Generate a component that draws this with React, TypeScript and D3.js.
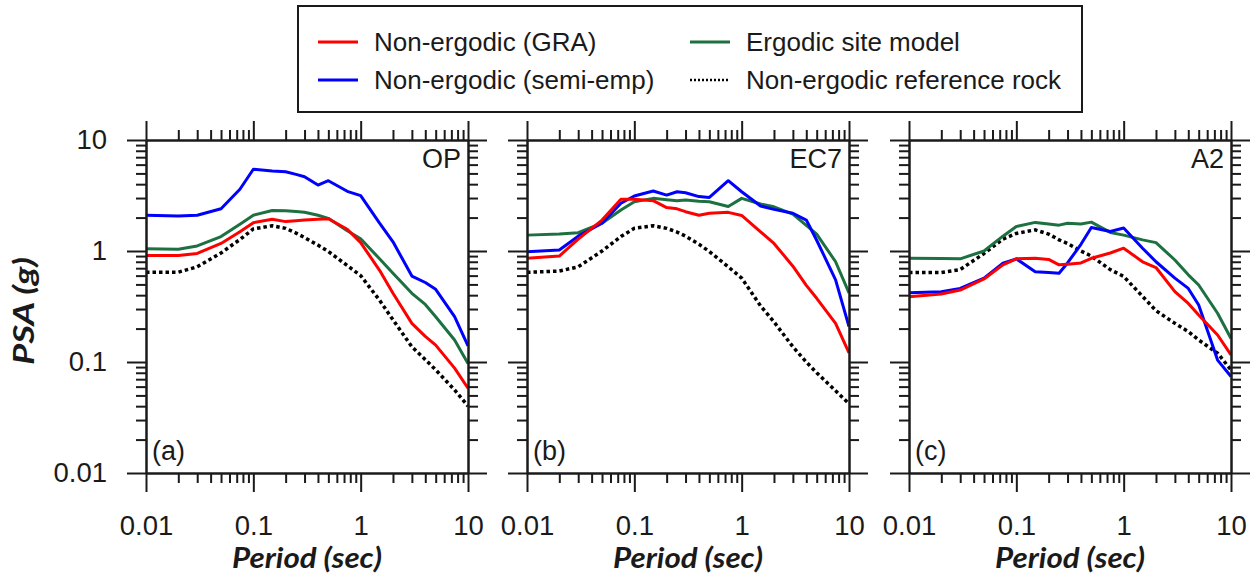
import React, { useEffect, useRef } from "react";
import * as d3 from "d3";

// periods (sec) shared by every curve
const periods = [0.01, 0.02, 0.03, 0.05, 0.075, 0.1, 0.15, 0.2, 0.25, 0.3, 0.4, 0.5, 0.75, 1, 1.5, 2, 3, 4, 5, 7.5, 10];

// (a) OP
const opGra = [0.91, 0.91, 0.95, 1.17, 1.49, 1.8, 1.93, 1.84, 1.87, 1.9, 1.93, 1.95, 1.57, 1.19, 0.67, 0.416, 0.223, 0.17, 0.142, 0.088, 0.058];
const opSemi = [2.1, 2.07, 2.1, 2.4, 3.6, 5.45, 5.25, 5.18, 4.9, 4.67, 3.93, 4.3, 3.45, 3.15, 1.78, 1.21, 0.595, 0.52, 0.452, 0.256, 0.14];
const opErgodic = [1.05, 1.035, 1.11, 1.35, 1.74, 2.1, 2.32, 2.31, 2.27, 2.23, 2.1, 1.97, 1.52, 1.29, 0.85, 0.63, 0.416, 0.33, 0.256, 0.158, 0.097];
const opRock = [0.643, 0.645, 0.72, 0.96, 1.27, 1.58, 1.69, 1.6, 1.45, 1.32, 1.13, 0.99, 0.74, 0.6, 0.36, 0.24, 0.137, 0.105, 0.085, 0.056, 0.04];

// (b) EC7
const ec7Gra = [0.86, 0.9, 1.28, 1.9, 2.92, 2.92, 2.84, 2.46, 2.4, 2.26, 2.1, 2.19, 2.23, 2.09, 1.49, 1.17, 0.73, 0.49, 0.375, 0.223, 0.121];
const ec7Semi = [0.985, 1.02, 1.36, 1.78, 2.69, 3.13, 3.47, 3.19, 3.42, 3.35, 3.09, 3.04, 4.3, 3.42, 2.54, 2.37, 2.19, 1.9, 1.25, 0.55, 0.208];
const ec7Ergodic = [1.39, 1.42, 1.46, 1.78, 2.34, 2.78, 2.98, 2.9, 2.84, 2.88, 2.8, 2.78, 2.52, 2.98, 2.65, 2.5, 2.15, 1.7, 1.42, 0.8, 0.42];
const ec7Rock = [0.643, 0.66, 0.72, 1.0, 1.35, 1.6, 1.69, 1.6, 1.48, 1.36, 1.15, 0.99, 0.72, 0.57, 0.32, 0.23, 0.137, 0.1, 0.08, 0.055, 0.042];

// (c) A2
const a2Gra = [0.387, 0.41, 0.445, 0.56, 0.75, 0.85, 0.86, 0.84, 0.75, 0.76, 0.78, 0.86, 0.96, 1.06, 0.8, 0.71, 0.43, 0.337, 0.265, 0.175, 0.116];
const a2Semi = [0.42, 0.43, 0.46, 0.57, 0.775, 0.85, 0.65, 0.64, 0.63, 0.78, 1.15, 1.63, 1.5, 1.61, 1.06, 0.8, 0.57, 0.46, 0.326, 0.104, 0.074];
const a2Ergodic = [0.86, 0.855, 0.85, 1.0, 1.36, 1.66, 1.81, 1.75, 1.71, 1.78, 1.75, 1.82, 1.47, 1.39, 1.26, 1.19, 0.83, 0.61, 0.494, 0.275, 0.163];
const a2Rock = [0.64, 0.64, 0.68, 0.95, 1.28, 1.44, 1.55, 1.42, 1.26, 1.17, 1.0, 0.9, 0.68, 0.59, 0.39, 0.29, 0.223, 0.188, 0.158, 0.12, 0.085];

const majorTicks = [0.01, 0.1, 1, 10];
const legendLabels = ["Non-ergodic (GRA)", "Non-ergodic (semi-emp)", "Ergodic site model", "Non-ergodic reference rock"];

const RED = "#ff0000";
const BLUE = "#0000ff";
const GREEN = "#1d7040";
const INK = "#1a1a1a";
const SANS = "'Liberation Sans', Arial, sans-serif";
const TITLE_FONT = "Lato, 'Open Sans', sans-serif";

const PW = 322;
const PH = 333;
const TOP = 140;

const x = d3.scaleLog().domain([0.01, 10]).range([0, PW]);
const y = d3.scaleLog().domain([0.01, 10]).range([PH, 0]);
const isMajor = (t: number) => Math.abs(Math.log10(t) - Math.round(Math.log10(t))) < 1e-6;
const minorTicks = x.ticks().filter(t => !isMajor(t));

const line = d3
  .line<[number, number]>()
  .x(d => x(d[0]))
  .y(d => y(d[1]));

const pairs = (vals: number[]) => periods.map((p, i) => [p, vals[i]] as [number, number]);

const panels = [
  { name: "OP", tag: "(a)", left: 146, gra: opGra, semi: opSemi, ergodic: opErgodic, rock: opRock },
  { name: "EC7", tag: "(b)", left: 527, gra: ec7Gra, semi: ec7Semi, ergodic: ec7Ergodic, rock: ec7Rock },
  { name: "A2", tag: "(c)", left: 909, gra: a2Gra, semi: a2Semi, ergodic: a2Ergodic, rock: a2Rock }
];

const styleAxis = (g: any) => {
  g.attr("font-family", null).attr("font-size", null);
  g.select(".domain").attr("stroke", INK).attr("stroke-width", 2);
  g.selectAll(".tick line").attr("stroke", INK).attr("stroke-width", 2);
  g.selectAll(".tick text").attr("fill", INK).attr("font-size", 27.5).attr("font-family", SANS);
};

function Panel({ panel, yLabels }: { panel: typeof panels[0]; yLabels: boolean }) {
  const axesRef = useRef<SVGGElement>(null);

  useEffect(() => {
    const g = d3.select(axesRef.current);
    g.selectAll("*").remove();
    const none = () => "";
    const fmt = (d: any) => String(d);

    const axes: [any, number, number, boolean, string][] = [
      [d3.axisBottom(x), 0, PH, true, "x"],
      [d3.axisTop(x), 0, 0, false, "x"],
      [d3.axisLeft(y), 0, 0, yLabels, "y"],
      [d3.axisRight(y), PW, 0, false, "y"]
    ];
    axes.forEach(([make, tx, ty, labels, dim]) => {
      const major = make.tickValues(majorTicks).tickSize(19).tickSizeOuter(0);
      major.tickPadding(dim === "x" ? 23 : 20).tickFormat(labels ? fmt : none);
      g.append("g").attr("transform", `translate(${tx},${ty})`).call(major).call(styleAxis);
    });
    const minors: [any, number, number][] = [
      [d3.axisBottom(x), 0, PH],
      [d3.axisTop(x), 0, 0],
      [d3.axisLeft(y), 0, 0],
      [d3.axisRight(y), PW, 0]
    ];
    minors.forEach(([make, tx, ty]) => {
      const minor = make.tickValues(minorTicks).tickSize(10).tickSizeOuter(0).tickFormat(none);
      g.append("g").attr("transform", `translate(${tx},${ty})`).call(minor).call(styleAxis);
    });
  }, [yLabels]);

  const series = [
    { vals: panel.rock, color: "#000", dash: "3.5 3", w: 3.5 },
    { vals: panel.ergodic, color: GREEN, dash: null, w: 3 },
    { vals: panel.semi, color: BLUE, dash: null, w: 3 },
    { vals: panel.gra, color: RED, dash: null, w: 3 }
  ];

  return (
    <g transform={`translate(${panel.left},${TOP})`}>
      {series.map((s, i) => (
        <path
          key={i}
          d={line(pairs(s.vals)) || ""}
          fill="none"
          stroke={s.color}
          strokeWidth={s.w}
          strokeDasharray={s.dash || undefined}
          strokeLinejoin="round"
        />
      ))}
      <g ref={axesRef} />
      <text x={PW - 7} y={28} textAnchor="end" fontFamily={SANS} fontSize={27} fill={INK}>
        {panel.name}
      </text>
      <text x={6} y={PH - 13} fontFamily={SANS} fontSize={27} fill={INK}>
        {panel.tag}
      </text>
      <text
        x={PW / 2}
        y={568 - TOP}
        textAnchor="middle"
        fontFamily={TITLE_FONT}
        fontWeight="bold"
        fontStyle="italic"
        fontSize={29}
        textLength={150}
        lengthAdjust="spacingAndGlyphs"
        fill={INK}
      >
        Period (sec)
      </text>
    </g>
  );
}

function Legend() {
  const items = [
    { label: legendLabels[0], color: RED, dash: null, lx: 318, ly: 42 },
    { label: legendLabels[1], color: BLUE, dash: null, lx: 318, ly: 80 },
    { label: legendLabels[2], color: GREEN, dash: null, lx: 690, ly: 42 },
    { label: legendLabels[3], color: "#000", dash: "2 2", lx: 690, ly: 80 }
  ];
  return (
    <g>
      <rect x={298} y={6} width={784} height={106} fill="#fff" stroke={INK} strokeWidth={2} />
      {items.map(it => (
        <g key={it.label}>
          <line
            x1={it.lx}
            x2={it.lx + 40}
            y1={it.ly}
            y2={it.ly}
            stroke={it.color}
            strokeWidth={it.dash ? 2.5 : 3}
            strokeDasharray={it.dash || undefined}
          />
          <text x={it.lx + 56} y={it.ly} dy="0.35em" fontFamily={SANS} fontSize={26} fill={INK}>
            {it.label}
          </text>
        </g>
      ))}
    </g>
  );
}

export default function App() {
  return (
    <svg width={1250} height={577} style={{ position: "absolute", left: 0, top: 0, background: "#fff" }}>
      <Legend />
      {panels.map((p, i) => (
        <Panel key={p.name} panel={p} yLabels={i === 0} />
      ))}
      <text
        transform={`translate(34,311) rotate(-90)`}
        textAnchor="middle"
        fontFamily={TITLE_FONT}
        fontWeight="bold"
        fontStyle="italic"
        fontSize={29}
        textLength={108}
        lengthAdjust="spacingAndGlyphs"
        fill={INK}
      >
        PSA (g)
      </text>
    </svg>
  );
}
